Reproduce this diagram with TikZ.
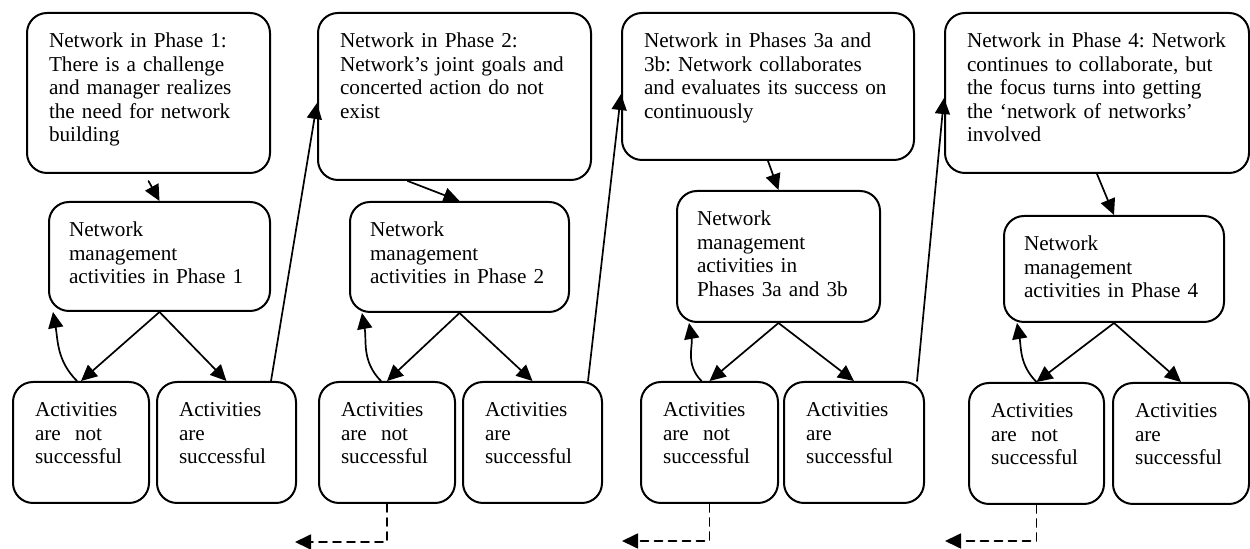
\documentclass[tikz,border=0pt]{standalone}
\usepackage{fontspec}
\setmainfont{Liberation Serif}
\usetikzlibrary{arrows.meta}
\def\boxline{1pt}
\def\boxround{10pt}

\begin{document}
\begin{tikzpicture}[x=0.5pt, y=0.5pt, line cap=round,
    font=\fontsize{10.6pt}{11.75pt}\selectfont\frenchspacing,
    box/.style n args={2}{draw, line width=\boxline, rounded corners=\boxround,
        anchor=north west, align=left, inner xsep=11pt, inner ysep=0pt,
        text height=17.5pt, text width=#1, text depth=#2},
    mgmt/.style n args={2}{box={#1}{#2}, inner xsep=10pt},
    arr/.style={line width=0.85pt, -{Triangle[length=8pt, width=7.5pt]}},
    back/.style={dashed, dash pattern=on 4pt off 3pt}]

                 \useasboundingbox (0, 0) rectangle (1250, -549);

                 \node[box={99.5pt}{62.5pt}] (p1) at (26, -12)
                 {Network in Phase 1:\\There is a challenge\\and manager realizes\\the need for network\\building};
                 \node[box={114.5pt}{66pt}] (p2) at (317, -12)
                 {Network in Phase 2:\\Network’s joint goals and\\concerted action do not\\exist};
                 \node[box={124pt}{56pt}] (p3) at (621, -12)
                 {Network in Phases 3a and\\3b: Network collaborates\\and evaluates its success on\\continuously};
                 \node[box={130pt}{62.5pt}] (p4) at (944, -12)
                 {Network in Phase 4: Network\\continues to collaborate, but\\the focus turns into getting\\the ‘network of networks’\\involved};

                 \node[mgmt={90.5pt}{37pt}] (m1) at (48, -201)
                 {Network\\management\\activities in Phase 1};
                 \node[mgmt={89.5pt}{37.5pt}] (m2) at (349, -201)
                 {Network\\management\\activities in Phase 2};
                 \node[mgmt={81.5pt}{48pt}] (m3) at (676, -190)
                 {Network\\management\\activities in\\Phases 3a and 3b};
                 \node[mgmt={90pt}{35.5pt}] (m4) at (1003, -215)
                 {Network\\management\\activities in Phase 4};

                 \node[box={46pt}{43pt}] (n1) at (12, -381) {Activities\\are\ \ not\\successful};
                 \node[box={47.5pt}{43pt}] (s1) at (156, -381) {Activities\\are\\successful};
                 \node[box={46pt}{43pt}] (n2) at (318, -381) {Activities\\are\ \ not\\successful};
                 \node[box={47.5pt}{43pt}] (s2) at (462, -381) {Activities\\are\\successful};
                 \node[box={46.5pt}{43pt}] (n3) at (640, -381) {Activities\\are\ \ not\\successful};
                 \node[box={48pt}{43pt}] (s3) at (783, -381) {Activities\\are\\successful};
                 \node[box={45.5pt}{43pt}] (n4) at (968, -382) {Activities\\are\ \ not\\successful};
                 \node[box={46pt}{43pt}] (s4) at (1112, -382) {Activities\\are\\successful};

                 \coordinate (r2) at (295, -542);
                 \coordinate (r3) at (622, -541);
                 \coordinate (r4) at (945, -541);

                 \draw[arr] ([yshift=-3.5pt]p1.south) -- (m1.north);
                 \draw[arr] (p2.-119) -- (m2.north);
                 \draw[arr] (p3.south) -- (m3.north);
                 \draw[arr] (p4.south) -- (m4.north);

                 \draw[arr] (m1.south) -- (n1.north);
                 \draw[arr] (m1.south) -- (s1.north);
                 \draw[arr] (m2.south) -- (n2.north);
                 \draw[arr] (m2.south) -- (s2.north);
                 \draw[arr] (m3.south) -- (n3.north);
                 \draw[arr] (m3.south) -- (s3.north);
                 \draw[arr] (m4.south) -- (n4.north);
                 \draw[arr] (m4.south) -- (s4.north);

                 \draw[arr] ([xshift=-2pt]n1.north) to[out=135, in=-80] ([xshift=2.5pt]m1.south west);
                 \draw[arr] ([xshift=-3pt]n2.north) to[out=135, in=-80] ([xshift=6.5pt]m2.south west);
                 \draw[arr] ([xshift=-4pt]n3.north) to[out=135, in=-80] ([xshift=6.5pt]m3.south west);
                 \draw[arr] (n4.north) to[out=135, in=-80] ([xshift=7pt]m4.south west);

                 \draw[arr] ([xshift=-13pt]s1.north east) -- ([yshift=-3.25pt]p2.west);
                 \draw[arr] ([xshift=-7.5pt]s2.north east) -- ([yshift=-3.75pt]p3.west);
                 \draw[arr] ([xshift=-4pt]s3.north east) -- ([yshift=-2.5pt]p4.west);

                 \draw[arr, back] (n2.south) |- (r2);
                 \draw[arr, back] (n3.south) |- (r3);
                 \draw[arr, back] (n4.south) |- (r4);

\end{tikzpicture}
\end{document}
